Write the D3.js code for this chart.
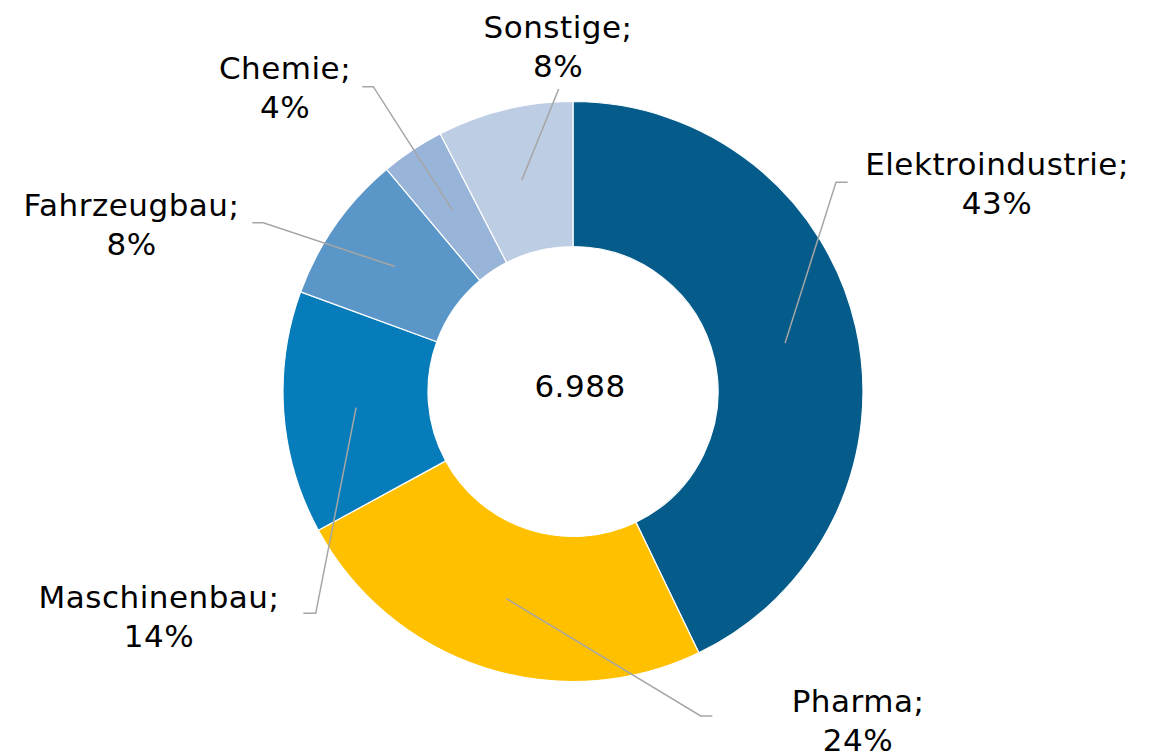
<!DOCTYPE html>
<html><head><meta charset="utf-8">
<script src="https://cdn.jsdelivr.net/npm/d3@7"></script>
<style>
body{margin:0;background:#fff;}
svg{display:block;}
text{font-family:"DejaVu Sans",Verdana,sans-serif;}
</style>
</head><body>
<svg id="chart" width="1158" height="753"></svg>
<script>
// ---- data ----
const categories = ["Elektroindustrie", "Pharma", "Maschinenbau", "Fahrzeugbau", "Chemie", "Sonstige"];
const values = [2995, 1691, 945, 581, 247, 529];
const colors = ["#055C8A", "#FFC000", "#077CBA", "#5B96C8", "#98B5D9", "#BDCDE4"];

// ---- layout (label text centre / first baseline, leader end + knee) ----
const labelLayout = [
  {x: 997,   y: 175,   ex: 847.7, ey: 182.3, kx: 836},
  {x: 858,   y: 711.7, ex: 712.3, ey: 716,   kx: 700.7},
  {x: 159,   y: 607.7, ex: 303.3, ey: 613.3, kx: 315.7},
  {x: 131.5, y: 216,   ex: 252.3, ey: 222.7, kx: 263.3},
  {x: 285,   y: 79.3,  ex: 362.3, ey: 86.7,  kx: 373.3},
  {x: 558,   y: 38,    ex: 558.7, ey: 89,    kx: null}
];

const cx = 573, cy = 391.5, rOuter = 290, rInner = 145;
const fontSize = 31, lineH = 39, spacing = 0.5;

const svg = d3.select("#chart");
const g = svg.append("g").attr("transform", `translate(${cx},${cy})`);

const data = categories.map((c, i) => ({name: c, value: values[i], color: colors[i], layout: labelLayout[i]}));
const total = d3.sum(values);

const pie = d3.pie().sort(null).value(d => d.value);
const arcs = pie(data);
const arc = d3.arc().innerRadius(rInner).outerRadius(rOuter);
const midArc = d3.arc().innerRadius((rInner + rOuter) / 2).outerRadius((rInner + rOuter) / 2);

g.selectAll("path.slice").data(arcs).join("path")
  .attr("class", "slice")
  .attr("d", arc)
  .attr("fill", d => d.data.color)
  .attr("stroke", "#fff")
  .attr("stroke-width", 1.2);

// leader lines
const line = d3.line();
svg.selectAll("path.leader").data(arcs).join("path")
  .attr("class", "leader")
  .attr("d", d => {
    const c = midArc.centroid(d);
    const p0 = [cx + c[0], cy + c[1]];
    const L = d.data.layout;
    const pts = [p0];
    if (L.kx !== null) pts.push([L.kx, L.ey]);
    pts.push([L.ex, L.ey]);
    return line(pts);
  })
  .attr("fill", "none")
  .attr("stroke", "#A6A6A6")
  .attr("stroke-width", 1.5);

// labels
const pct = v => Math.round(v / total * 100) + "%";
const lbl = svg.selectAll("text.lbl").data(arcs).join("text")
  .attr("class", "lbl")
  .attr("text-anchor", "middle")
  .attr("font-size", fontSize)
  .attr("letter-spacing", spacing)
  .attr("fill", "#000");
lbl.append("tspan").attr("x", d => d.data.layout.x).attr("y", d => d.data.layout.y).text(d => d.data.name + ";");
lbl.append("tspan").attr("x", d => d.data.layout.x).attr("y", d => d.data.layout.y + lineH).text(d => pct(d.data.value));

// centre total
const de = d3.formatLocale({decimal: ",", thousands: ".", grouping: [3], currency: ["", " €"]});
g.append("text")
  .attr("x", 7).attr("y", 5)
  .attr("text-anchor", "middle")
  .attr("font-size", fontSize)
  .attr("letter-spacing", spacing)
  .attr("fill", "#000")
  .text(de.format(",")(total));
</script>
</body></html>
